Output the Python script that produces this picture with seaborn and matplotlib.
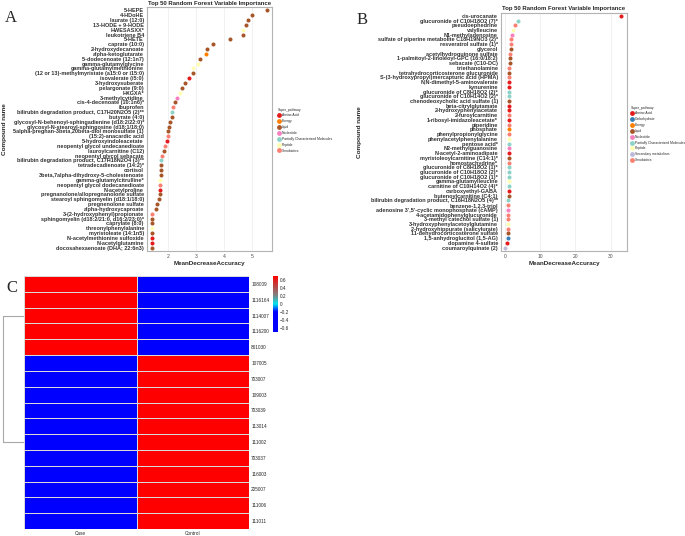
import matplotlib
matplotlib.use('Agg')
import matplotlib.pyplot as plt
from matplotlib.colors import LinearSegmentedColormap
import numpy as np
import pandas as pd
import seaborn as sns

# ---- panel A: top 50 random forest importance ----
a_names = [
    '5-HEPE', '4-HDoHE', 'laurate (12:0)', '13-HODE + 9-HODE', 'HWESASXX*',
    'leukotriene B4', '5-HETE', 'caprate (10:0)', '2-hydroxydecanoate',
    'alpha-ketoglutarate', '5-dodecenoate (12:1n7)', 'gamma-glutamylglycine',
    'gamma-glutamylmethionine', '(12 or 13)-methylmyristate (a15:0 or i15:0)',
    'isovalerate (i5:0)', '3-hydroxysuberate', 'pelargonate (9:0)', 'HXGXA*',
    '3-methylcytidine', 'cis-4-decenoate (10:1n6)*', 'ibuprofen',
    'bilirubin degradation product, C17H20N2O5 (2)**', 'butyrate (4:0)',
    'glycosyl-N-behenoyl-sphingadienine (d18:2/22:0)*',
    'glycosyl-N-stearoyl-sphingosine (d18:1/18:0)',
    '5alpha-pregnan-3beta,20beta-diol monosulfate (1)', '(15:2)-anacardic acid',
    '5-hydroxyindoleacetate', 'neopentyl glycol undecanedioate',
    'lauroylcarnitine (C12)', 'neopentyl glycol sebacate',
    'bilirubin degradation product, C17H18N2O4 (3)**', 'tetradecadienoate (14:2)*',
    'cortisol', '3beta,7alpha-dihydroxy-5-cholestenoate', 'gamma-glutamylcitrulline*',
    'neopentyl glycol dodecanedioate', 'N-acetylproline',
    'pregnanolone/allopregnanolone sulfate', 'stearoyl sphingomyelin (d18:1/18:0)',
    'pregnenolone sulfate', 'alpha-hydroxycaproate',
    '3-(2-hydroxyphenyl)propionate', 'sphingomyelin (d18:2/21:0, d16:2/23:0)*',
    'caprylate (8:0)', 'threonylphenylalanine', 'myristoleate (14:1n5)',
    'N-acetylmethionine sulfoxide', 'N-acetylglutamine',
    'docosahexaenoate (DHA; 22:6n3)',
]
a_mda = [5.54, 5.01, 4.87, 4.79, 4.69, 4.68, 4.22, 3.61, 3.39, 3.36,
         3.14, 3.08, 2.90, 2.89, 2.73, 2.60, 2.50, 2.40, 2.31, 2.25,
         2.18, 2.14, 2.14, 2.07, 2.01, 2.00, 1.99, 1.95, 1.89, 1.84,
         1.78, 1.75, 1.75, 1.74, 1.72, 1.69, 1.69, 1.68, 1.68, 1.66,
         1.60, 1.57, 1.42, 1.42, 1.42, 1.42, 1.42, 1.41, 1.41, 1.41]
a_path = ['L', 'L', 'L', 'L', 'P', 'L', 'L', 'L', 'L', 'E',
          'L', 'P', 'P', 'L', 'A', 'L', 'L', 'P', 'N', 'L',
          'X', 'PC', 'L', 'L', 'L', 'L', 'X', 'A', 'X', 'L',
          'X', 'PC', 'L', 'L', 'L', 'P', 'X', 'A', 'L', 'L',
          'L', 'L', 'X', 'L', 'L', 'P', 'L', 'A', 'A', 'L']
a_legend = ['A', 'E', 'L', 'N', 'PC', 'P', 'X']

# ---- panel B ----
b_names = [
    'cis-urocanate', 'glucuronide of C10H18O2 (7)*', 'pseudoephedrine', 'valylleucine',
    'N1-methyladenosine', 'sulfate of piperine metabolite C18H19NO3 (2)*',
    'resveratrol sulfate (1)*', 'glycerol', 'acetylhydroquinone sulfate',
    '1-palmitoyl-2-linoleoyl-GPC (16:0/18:2)', 'sebacate (C10-DC)', 'triethanolamine',
    'tetrahydrocorticosterone glucuronide',
    'S-(3-hydroxypropyl)mercapturic acid (HPMA)', 'N,N-dimethyl-5-aminovalerate',
    'kynurenine', 'glucuronide of C8H18O2 (2)*', 'glucuronide of C10H14O2 (2)*',
    'chenodeoxycholic acid sulfate (1)', 'beta-citrylglutamate',
    '2-hydroxyphenylacetate', '2-furoylcarnitine', '1-ribosyl-imidazoleacetate*',
    'piperidine', 'phosphate', 'phenylpropionylglycine', 'phenylacetylphenylalanine',
    'pentose acid*', 'N2-methylguanosine', 'N-acetyl-2-aminoadipate',
    'myristoleoylcarnitine (C14:1)*', 'homostachydrine*',
    'glucuronide of C8H18O2 (1)*', 'glucuronide of C10H18O2 (2)*',
    'glucuronide of C10H18O2 (1)*', 'gamma-glutamylleucine',
    'carnitine of C10H14O2 (4)*', 'carboxyethyl-GABA', 'butenoylcarnitine (C4:1)',
    'bilirubin degradation product, C16H18N2O5 (4)**', 'benzene-1,2,3-triol',
    "adenosine 3',5'-cyclic monophosphate (cAMP)", '4-acetamidophenylglucuronide',
    '3-methyl catechol sulfate (1)', '3-hydroxyphenylacetoylglutamine',
    '2-hydroxyhippurate (salicylurate)', '11-dehydrocorticosterone sulfate',
    '1,5-anhydroglucitol (1,5-AG)', 'dopamine 4-sulfate', 'coumaroylquinate (2)',
]
b_mda = [32.9, 3.7, 2.8, 2.2, 1.9, 1.8, 1.8, 1.6, 1.5, 1.4,
         1.4, 1.2, 1.2, 1.2, 1.2, 1.2, 1.15, 1.15, 1.15, 1.15,
         1.15, 1.1, 1.1, 1.1, 1.1, 1.1, 1.1, 1.1, 1.1, 1.1,
         1.05, 1.05, 1.05, 1.05, 1.05, 1.05, 1.05, 1.05, 1.05, 1.0,
         1.0, 1.0, 1.0, 1.0, 1.0, 1.0, 1.0, 0.95, 0.5, 0.0]
b_path = ['A', 'PC', 'X', 'P', 'N', 'X', 'X', 'L', 'X', 'L',
          'L', 'X', 'L', 'X', 'A', 'A', 'PC', 'PC', 'L', 'A',
          'A', 'X', 'A', 'X', 'E', 'X', 'P', 'PC', 'N', 'A',
          'L', 'X', 'PC', 'PC', 'PC', 'P', 'PC', 'A', 'L', 'PC',
          'X', 'N', 'X', 'X', 'P', 'X', 'L', 'C', 'A', 'S']
b_legend = ['A', 'C', 'E', 'L', 'N', 'PC', 'P', 'S', 'X']

pathway_names = {
    'A': 'Amino Acid', 'C': 'Carbohydrate', 'E': 'Energy', 'L': 'Lipid',
    'N': 'Nucleotide', 'PC': 'Partially Characterized Molecules', 'P': 'Peptide',
    'S': 'Secondary metabolism', 'X': 'Xenobiotics',
}
palette = {
    'Amino Acid': '#E41A1C', 'Carbohydrate': '#377EB8', 'Energy': '#FF7F00',
    'Lipid': '#A65628', 'Nucleotide': '#F781BF',
    'Partially Characterized Molecules': '#8DD3C7', 'Peptide': '#FFFFB3',
    'Secondary metabolism': '#BEBADA', 'Xenobiotics': '#FB8072',
}

# ---- panel C: heatmap of sample scores ----
samples = ['108009', '1116164', '1114007', '1116200', '801030', '107005', '703007',
           '109003', '703039', '113014', '111002', '703037', '116003', '205007',
           '111006', '111011']
case_z = [0.707, 0.707, 0.707, 0.707, 0.707, -0.707, -0.707, -0.707,
          -0.707, -0.707, -0.707, -0.707, -0.707, -0.707, -0.707, -0.707]
control_z = [-0.707, -0.707, -0.707, -0.707, -0.707, 0.707, 0.707, 0.707,
             0.707, 0.707, 0.707, 0.707, 0.707, 0.707, 0.707, 0.707]
cbar_ticks = [0.6, 0.4, 0.2, 0, -0.2, -0.4, -0.6]

W, H = 685, 536
FONT = 'Liberation Sans'


def box(x0, y0, x1, y1):
    """pixel box (top-left origin) -> figure fraction rect"""
    return [x0 / W, 1 - y1 / H, (x1 - x0) / W, (y1 - y0) / H]


def plot_importance(fig, rect, names, mda, path, legend_keys, ticks, xlim,
                    leg_xy, ylab_xy, letter, letter_xy, label_size):
    ax = fig.add_axes(rect)
    df = pd.DataFrame({'name': names, 'mda': mda,
                       'Super_pathway': [pathway_names[p] for p in path]})
    order = [pathway_names[k] for k in legend_keys]
    sns.stripplot(data=df, x='mda', y='name', hue='Super_pathway', hue_order=order,
                  order=names, palette=palette, jitter=False, size=2.9,
                  linewidth=0, ax=ax)
    ax.set_xlim(*xlim)
    ax.set_ylim(len(names) - 0.3, -0.7)
    ax.set_xticks(ticks)
    ax.set_xticklabels([str(t) for t in ticks])
    ax.grid(axis='x', color='#EBEBEB', lw=0.5)
    ax.set_axisbelow(True)
    for s in ax.spines.values():
        s.set_color('#B3B3B3')
        s.set_linewidth(0.8)
    ax.tick_params(axis='y', labelsize=label_size, length=1.2, width=0.4,
                   color='#333333', pad=1)
    ax.tick_params(axis='x', labelsize=3.6, length=1.2, width=0.4,
                   color='#333333', labelcolor='#4D4D4D', pad=1)
    for lbl in ax.get_yticklabels():
        lbl.set_fontweight('bold')
        lbl.set_color('#333333')
    ax.set_ylabel('')
    ax.set_xlabel('MeanDecreaseAccuracy', fontsize=4.5, fontweight='bold', labelpad=1.5)
    ax.set_title('Top 50 Random Forest Variable Importance', fontsize=4.3,
                 fontweight='bold', pad=1.5)
    sns.move_legend(ax, 'upper left', bbox_to_anchor=(leg_xy[0] / W, 1 - leg_xy[1] / H),
                    bbox_transform=fig.transFigure, frameon=False, title='Super_pathway',
                    fontsize=2.4, title_fontsize=2.4, handletextpad=0.3,
                    labelspacing=0.55, borderpad=0, handlelength=1.0,
                    markerscale=1.2, alignment='left')
    fig.text(ylab_xy[0] / W, 1 - ylab_xy[1] / H, 'Compound name', rotation=90,
             fontsize=4.6, fontweight='bold', ha='center', va='center')
    fig.text(letter_xy[0] / W, 1 - letter_xy[1] / H, letter, fontsize=12,
             family='Liberation Serif', ha='center', va='center')
    return ax


def plot_heatmap(fig):
    hm = pd.DataFrame({'Case': case_z, 'Control': control_z}, index=samples)
    vmax = float(np.abs(hm.values).max())
    cmap = LinearSegmentedColormap.from_list(
        'bcgr', [(0, '#0000FF'), (0.36, '#0000FF'), (0.5, '#00E5EE'),
                 (0.66, '#808080'), (1, '#FF0000')])
    ax = fig.add_axes(box(24, 276, 249, 529))
    cax = fig.add_axes(box(273, 276, 278, 332))
    sns.heatmap(hm, ax=ax, cbar_ax=cax, cmap=cmap, vmin=-vmax, vmax=vmax,
                linewidths=0.6, linecolor='#DADADA')
    ax.yaxis.tick_right()
    ax.tick_params(axis='both', length=0, labelsize=3.4, pad=1.5)
    ax.set_yticklabels(samples, rotation=0)
    ax.set_xticklabels(hm.columns, rotation=0)
    ax.set_xlabel('')
    ax.set_ylabel('')
    cax.set_yticks(cbar_ticks)
    cax.set_yticklabels(['0.6', '0.4', '0.2', '0', '\u22120.2', '\u22120.4', '\u22120.6'])
    cax.tick_params(length=0, labelsize=3.4, pad=1.5)
    for s in cax.spines.values():
        s.set_visible(False)

    # dendrogram: two clusters joined at the top level
    dax = fig.add_axes(box(2, 276, 24, 529))
    vals = hm.values
    groups = [np.where(vals[:, 0] > 0)[0], np.where(vals[:, 0] <= 0)[0]]
    centers = [g.mean() + 0.5 for g in groups]
    height = np.linalg.norm(vals[groups[0]].mean(0) - vals[groups[1]].mean(0))
    for c in centers:
        dax.plot([0, height], [c, c], color='#A8A8A8', lw=0.8)
    dax.plot([height, height], centers, color='#A8A8A8', lw=0.8)
    dax.set_xlim(height * 1.04, 0)
    dax.set_ylim(len(samples), 0)
    dax.axis('off')
    fig.text(12 / W, 1 - 288 / H, 'C', fontsize=12, family='Liberation Serif',
             ha='center', va='center')


def main():
    sns.set_style('white')
    plt.rcParams['font.family'] = [FONT, 'DejaVu Sans']
    fig = plt.figure(figsize=(W / 100, H / 100), dpi=100)
    plot_importance(fig, box(147, 7, 272, 251), a_names, a_mda, a_path, a_legend,
                    [2, 3, 4, 5], (1.23, 5.73), (276, 106), (5, 129), 'A', (11, 18), 3.95)
    plot_importance(fig, box(501, 12.5, 627, 251), b_names, b_mda, b_path, b_legend,
                    [0, 10, 20, 30], (-1.1, 34.6), (629, 104), (360, 132), 'B', (362, 20), 3.95)
    plot_heatmap(fig)
    fig.savefig('out.png', dpi=100)


if __name__ == '__main__':
    main()
